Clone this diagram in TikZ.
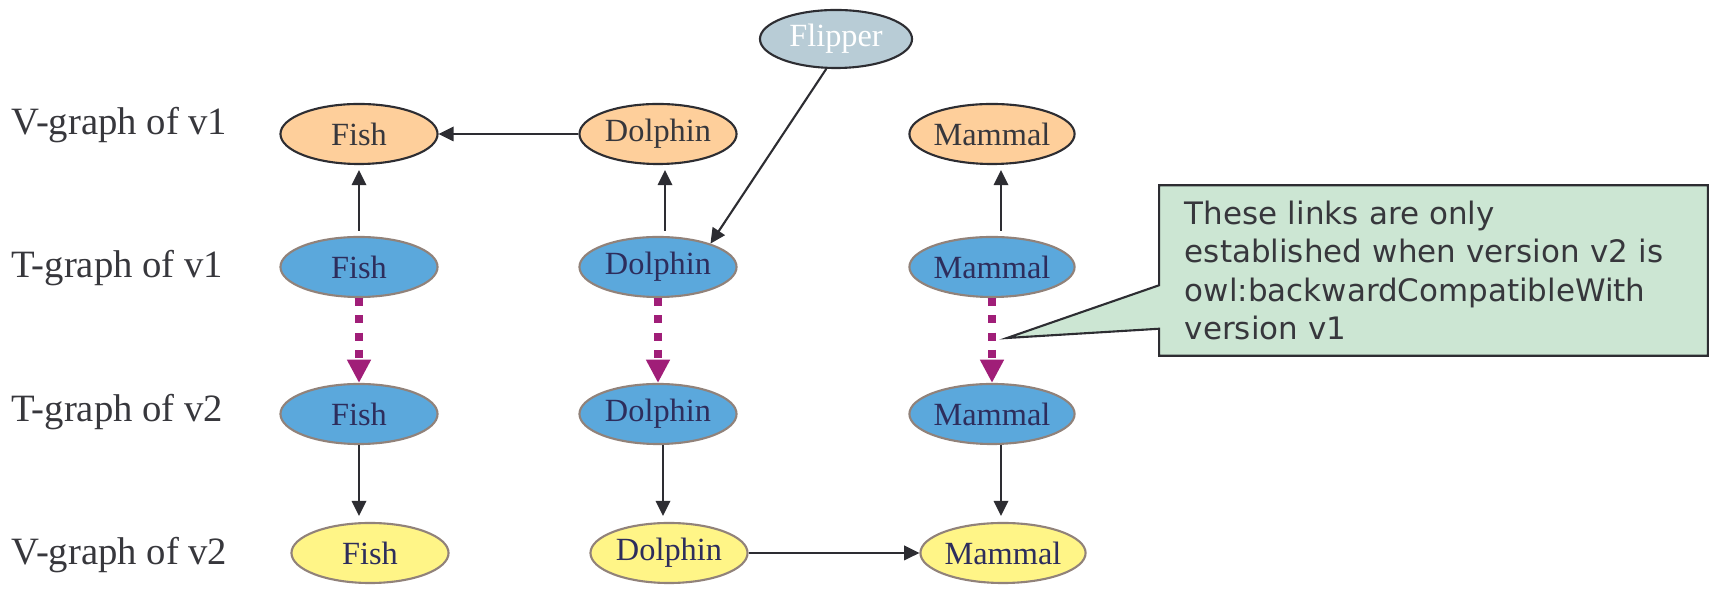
\documentclass[tikz,border=0pt]{standalone}
\usepackage{fontspec}
\setmainfont{Liberation Serif}
\newfontfamily\notefont{DejaVu Sans}
\usetikzlibrary{
    shapes.geometric,
    arrows.meta,
    calc,
    backgrounds
}
\definecolor{vgraphorange}{RGB}{254, 207, 155}
\definecolor{tgraphblue}{RGB}{91, 168, 220}
\definecolor{vgraphyellow}{RGB}{255, 245, 135}
\definecolor{flippergray}{RGB}{184, 204, 214}
\definecolor{notegreen}{RGB}{204, 230, 211}
\definecolor{compatpurple}{RGB}{160, 30, 120}
\definecolor{darkline}{RGB}{45, 45, 50}
\definecolor{softborder}{RGB}{145, 130, 122}
\definecolor{navytext}{RGB}{45, 45, 92}
\definecolor{labelgray}{RGB}{55, 55, 60}

\begin{document}
\begin{tikzpicture}[
        x=0.01cm, y=-0.01cm,
        concept/.style={ellipse, line width=0.6pt, minimum width=1.57cm, minimum height=0.60cm, inner sep=0pt, font=\fontsize{9.2}{10}\selectfont},
        vone/.style={concept, draw=darkline, fill=vgraphorange, text=labelgray},
        tnode/.style={concept, draw=softborder, fill=tgraphblue, text=navytext},
        vtwo/.style={concept, draw=softborder, fill=vgraphyellow, text=navytext},
        rowlabel/.style={anchor=base west, inner sep=0pt, text=labelgray, font=\fontsize{11}{12}\selectfont},
        arrow/.style={-{Triangle[length=4.3pt, width=4.1pt]}, line width=0.6pt, draw=darkline},
        compat/.style={-{Triangle[length=6.6pt, width=6.4pt]}, line width=2pt, draw=compatpurple, dash pattern=on 2.3pt off 2.6pt},
        note/.style={minimum width=5.47cm, minimum height=1.69cm, inner xsep=0.25cm, text width=4.97cm, align=left, text=labelgray, font=\notefont\fontsize{8.8}{10.9}\selectfont}
    ]
        \useasboundingbox (0,0) rectangle (1712,589);

        % Row labels
        \node[rowlabel] (lv1) at (11,135) {V-graph of v1};
        \node[rowlabel] (lt1) at (11,278) {T-graph of v1};
        \node[rowlabel] (lt2) at (11,422) {T-graph of v2};
        \node[rowlabel] (lv2) at (11,565) {V-graph of v2};

        % V-graph of v1
        \node[vone] (fV1) at (359,134) {Fish};
        \node[vone] (dV1) at (658,134) {Dolphin};
        \node[vone] (mV1) at (992,134) {Mammal};

        % T-graph of v1
        \node[tnode] (fT1) at (359,267) {Fish};
        \node[tnode] (dT1) at (658,267) {Dolphin};
        \node[tnode] (mT1) at (992,267) {Mammal};

        % T-graph of v2
        \node[tnode] (fT2) at (359,414) {Fish};
        \node[tnode] (dT2) at (658,414) {Dolphin};
        \node[tnode] (mT2) at (992,414) {Mammal};

        % V-graph of v2
        \node[vtwo] (fV2) at (370,553) {Fish};
        \node[vtwo] (dV2) at (669,553) {Dolphin};
        \node[vtwo] (mV2) at (1003,553) {Mammal};

        % Flipper
        \node[concept, draw=darkline, fill=flippergray, text=white, minimum width=1.52cm, minimum height=0.58cm] (flip) at (836,39) {Flipper};

        % Arrows
        \draw[arrow] (dV1) -- (fV1);
        \draw[arrow, shorten <=0.05cm, shorten >=0.05cm] (fT1.north) -- (fV1.south);
        \draw[arrow, shorten <=0.05cm, shorten >=0.05cm] ([xshift=0.07cm]dT1.north) -- ([xshift=0.07cm]dV1.south);
        \draw[arrow, shorten <=0.05cm, shorten >=0.05cm] ([xshift=0.09cm]mT1.north) -- ([xshift=0.09cm]mV1.south);
        \draw[arrow] (flip.252) -- (dT1.24);

        \draw[compat] (fT1) -- (fT2);
        \draw[compat] (dT1) -- (dT2);
        \draw[compat] (mT1) -- (mT2);

        \draw[arrow, shorten >=0.06cm] (fT2.south) -- (fT2.south |- fV2.north);
        \draw[arrow, shorten >=0.06cm] ([xshift=0.05cm]dT2.south) -- ([xshift=0.05cm]dT2.south |- dV2.north);
        \draw[arrow, shorten >=0.06cm] ([xshift=0.09cm]mT2.south) -- ([xshift=0.09cm]mT2.south |- mV2.north);
        \draw[arrow] (dV2) -- (mV2);

        % Callout
        \node[note] (remark) at (1433.5,270.5) {These links are only\\established when version v2 is\\owl:backwardCompatibleWith\\version v1};
        \coordinate (tip) at (1007,338);
        \begin{scope}[on background layer]
            \draw[fill=notegreen, draw=darkline, line width=0.6pt]
                (remark.north west) -- (remark.north east) -- (remark.south east) -- (remark.south west)
                -- ($(remark.south west)+(0,-27)$) -- (tip) -- ($(remark.north west)+(0,100)$) -- cycle;
        \end{scope}
    \end{tikzpicture}
\end{document}
